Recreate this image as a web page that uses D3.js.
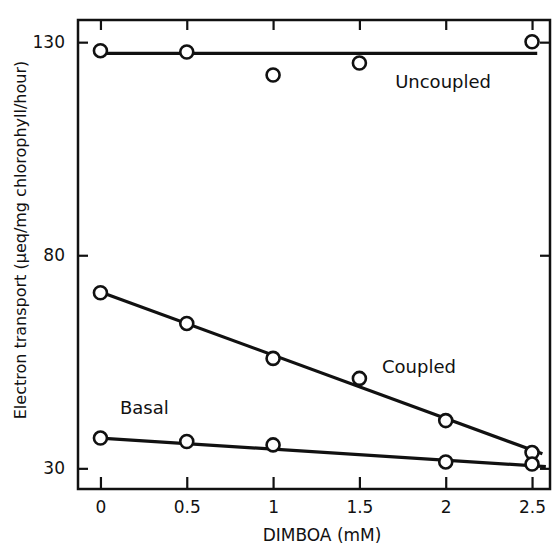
<!DOCTYPE html>
<html>
<head>
<meta charset="utf-8">
<script src="https://cdn.jsdelivr.net/npm/d3@7"></script>
<style>
	html, body { margin: 0; padding: 0; background: #fff; }
	svg { display: block; }
	text { font-family: "DejaVu Sans", sans-serif; fill: #111; }
</style>
</head>
<body>
<svg id="chart" width="554" height="548"></svg>
<script>
// DIMBOA concentration (mM)
const X_TICKS = [0, 0.5, 1, 1.5, 2, 2.5];
const Y_TICKS = [30, 80, 130];

const uncoupledX = [0, 0.5, 1, 1.5, 2.5];
const uncoupledY = [128.0, 127.7, 122.3, 125.1, 130.1];
const coupledX = [0, 0.5, 1, 1.5, 2, 2.5];
const coupledY = [71.2, 64.0, 55.8, 51.1, 41.2, 33.7];
const basalX = [0, 0.5, 1, 2, 2.5];
const basalY = [37.1, 36.3, 35.5, 31.5, 31.0];

// fitted lines: [start, end] as [x, y]
const uncoupledFit = [[0, 127.35], [2.53, 127.35]];
const coupledFit = [[0, 71.4], [2.56, 33.4]];
const basalFit = [[0, 37.1], [2.58, 30.4]];

const SERIES = [
	{ name: "Uncoupled", xs: uncoupledX, ys: uncoupledY, fit: uncoupledFit, label: [1.707, 119.2] },
	{ name: "Coupled", xs: coupledX, ys: coupledY, fit: coupledFit, label: [1.631, 52.35] },
	{ name: "Basal", xs: basalX, ys: basalY, fit: basalFit, label: [0.113, 42.7] }
];

const svg = d3.select("#chart");

const FRAME = { left: 78, top: 20, right: 550, bottom: 489 };
const STROKE = "#111";

const x = d3.scaleLinear().domain([-0.13, 2.604]).range([FRAME.left, FRAME.right]);
const y = d3.scaleLinear().domain([25.15, 135.2]).range([FRAME.bottom, FRAME.top]);

function styleAxis(g, showLabels) {
	g.select(".domain").remove();
	g.selectAll(".tick line").attr("stroke", STROKE).attr("stroke-width", 2.2);
	if (!showLabels) g.selectAll(".tick text").remove();
	else g.selectAll(".tick text").attr("font-size", 17).attr("font-family", "DejaVu Sans, sans-serif").attr("fill", STROKE);
}

svg.append("g")
	.attr("transform", `translate(0,${FRAME.bottom})`)
	.call(d3.axisBottom(x).tickValues(X_TICKS).tickFormat((d) => String(d)).tickSizeInner(-12).tickSizeOuter(0).tickPadding(12))
	.call((g) => styleAxis(g, true));

svg.append("g")
	.attr("transform", `translate(0,${FRAME.top})`)
	.call(d3.axisTop(x).tickValues(X_TICKS).tickSizeInner(-10).tickSizeOuter(0))
	.call((g) => styleAxis(g, false));

svg.append("g")
	.attr("transform", `translate(${FRAME.left},0)`)
	.call(d3.axisLeft(y).tickValues(Y_TICKS).tickSizeInner(-10).tickSizeOuter(0).tickPadding(13))
	.call((g) => styleAxis(g, true));

svg.append("g")
	.attr("transform", `translate(${FRAME.right},0)`)
	.call(d3.axisRight(y).tickValues(Y_TICKS).tickSizeInner(-10).tickSizeOuter(0))
	.call((g) => styleAxis(g, false));

// frame
svg.append("rect")
	.attr("x", FRAME.left)
	.attr("y", FRAME.top)
	.attr("width", FRAME.right - FRAME.left)
	.attr("height", FRAME.bottom - FRAME.top)
	.attr("fill", "none")
	.attr("stroke", STROKE)
	.attr("stroke-width", 2.5);

const line = d3.line().x((d) => x(d[0])).y((d) => y(d[1]));

const plot = svg.append("g");

plot.selectAll("path.fit")
	.data(SERIES)
	.join("path")
	.attr("class", "fit")
	.attr("d", (d) => line(d.fit))
	.attr("fill", "none")
	.attr("stroke", STROKE)
	.attr("stroke-width", 3.2);

SERIES.forEach((s) => {
	plot.append("g")
		.selectAll("circle")
		.data(s.xs.map((v, i) => [v, s.ys[i]]))
		.join("circle")
		.attr("cx", (d) => x(d[0]))
		.attr("cy", (d) => y(d[1]))
		.attr("r", 6.5)
		.attr("fill", "#fff")
		.attr("stroke", STROKE)
		.attr("stroke-width", 2.6);
});

plot.selectAll("text.series-label")
	.data(SERIES)
	.join("text")
	.attr("class", "series-label")
	.attr("x", (d) => x(d.label[0]))
	.attr("y", (d) => y(d.label[1]))
	.attr("font-size", 18)
	.text((d) => d.name);

// axis titles
svg.append("text")
	.attr("x", (FRAME.left + FRAME.right) / 2 + 8)
	.attr("y", 541)
	.attr("text-anchor", "middle")
	.attr("font-size", 17)
	.text("DIMBOA (mM)");

svg.append("text")
	.attr("transform", `translate(26,${(32 + 448) / 2}) rotate(-90)`)
	.attr("text-anchor", "middle")
	.attr("font-size", 16)
	.text("Electron transport (μeq/mg chlorophyll/hour)");
</script>
</body>
</html>
